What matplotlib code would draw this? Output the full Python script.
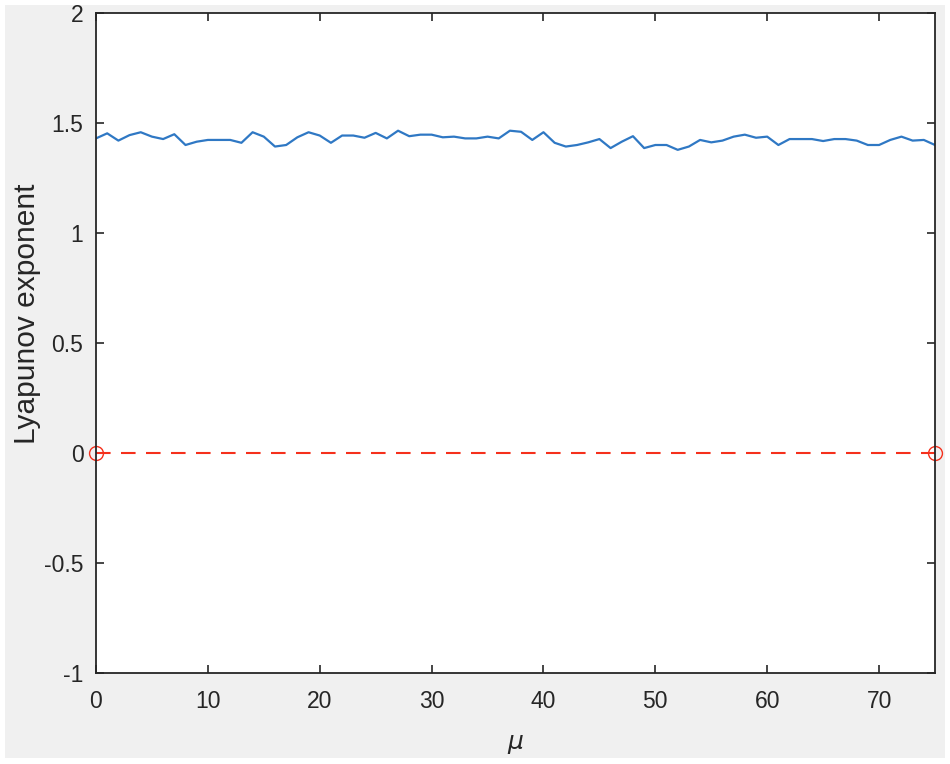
import numpy as np
import matplotlib.pyplot as plt
from matplotlib.patches import Rectangle

# Lyapunov exponent vs mu
mu = np.arange(0, 76)
lyap = [1.430, 1.453, 1.420, 1.445, 1.458, 1.438, 1.427, 1.449, 1.400, 1.415,
        1.423, 1.423, 1.423, 1.410, 1.458, 1.438, 1.393, 1.400, 1.435, 1.458,
        1.443, 1.410, 1.443, 1.443, 1.433, 1.455, 1.430, 1.465, 1.440, 1.447,
        1.447, 1.435, 1.438, 1.430, 1.430, 1.438, 1.430, 1.465, 1.460, 1.423,
        1.458, 1.410, 1.393, 1.400, 1.412, 1.427, 1.386, 1.415, 1.440, 1.386,
        1.400, 1.400, 1.378, 1.393, 1.423, 1.412, 1.420, 1.438, 1.447, 1.433,
        1.438, 1.400, 1.427, 1.427, 1.427, 1.418, 1.427, 1.427, 1.420, 1.400,
        1.400, 1.423, 1.438, 1.420, 1.423, 1.400]
ref_x = [0, 75]
ref_y = [0, 0]

plt.rcParams['font.family'] = ['Liberation Sans', 'DejaVu Sans']

fig = plt.figure(figsize=(9.5, 7.64), dpi=100, facecolor='white')
fig.patches.append(Rectangle((5 / 950, 6 / 764), 940 / 950, 753 / 764,
                             transform=fig.transFigure, facecolor='#f0f0f0',
                             edgecolor='none', zorder=-10))
ax = fig.add_axes([96 / 950, 1 - 673 / 764, (935 - 96) / 950, (673 - 13) / 764])
ax.set_facecolor('white')

ax.plot(mu, lyap, color='#2f78c4', lw=1.6)
ax.plot(ref_x, ref_y, '--o', color='#f5301c', lw=1.5, markersize=10,
        markerfacecolor='none', dashes=(7, 5), clip_on=False)

ax.set_xlim(0, 75)
ax.set_ylim(-1, 2)
ax.set_xticks(np.arange(0, 71, 10))
ax.set_yticks([-1, -0.5, 0, 0.5, 1, 1.5, 2])
ax.set_yticklabels(['-1', '-0.5', '0', '0.5', '1', '1.5', '2'])
ax.tick_params(direction='in', top=True, right=True, length=6, width=1.2,
               labelsize=16.5, colors='#262626')
ax.tick_params(axis='x', pad=12)
ax.tick_params(axis='y', pad=9)
for s in ax.spines.values():
    s.set_color('#262626')
    s.set_linewidth(1.3)

ax.set_ylabel('Lyapunov exponent', fontsize=21.5, color='#262626')
ax.yaxis.set_label_coords(-0.065, 0.545)
ax.set_xlabel(r'$\mu$', fontsize=18, color='#262626')
ax.xaxis.set_label_coords(0.5, -0.09)

fig.savefig('out.png', dpi=100, facecolor=fig.get_facecolor())
